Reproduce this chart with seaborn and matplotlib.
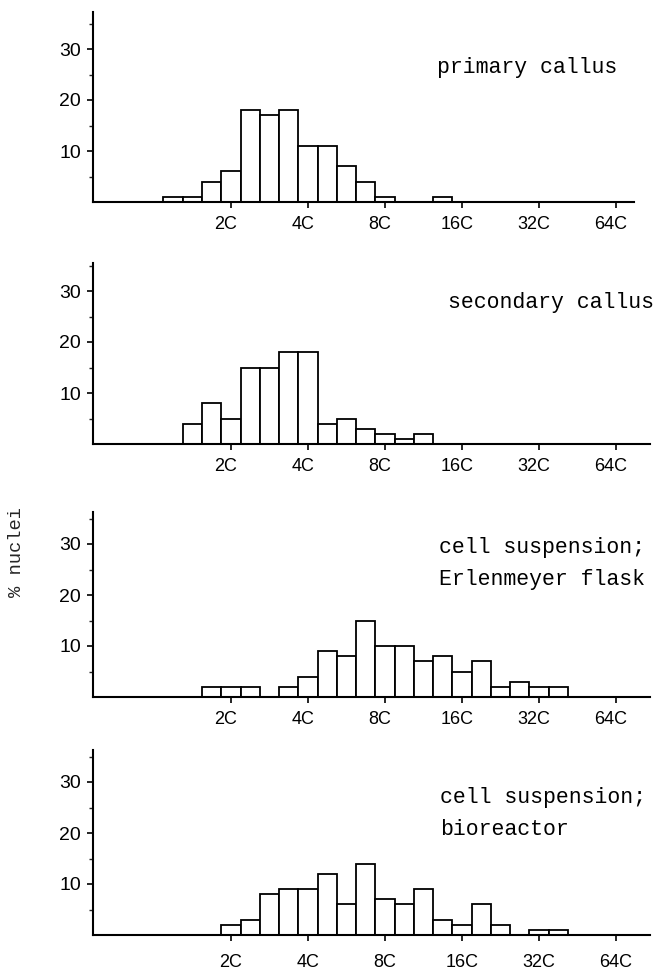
import pandas as pd
import seaborn as sns
import matplotlib.pyplot as plt
from matplotlib.transforms import ScaledTranslation

# bin centres as log2 of DNA content (1 = 2C, 2 = 4C, ...) and % nuclei per bin
primary_pos = [0.25, 0.5, 0.75, 1.0, 1.25, 1.5, 1.75, 2.0, 2.25, 2.5, 2.75, 3.0, 3.75]
primary_pct = [1, 1, 4, 6, 18, 17, 18, 11, 11, 7, 4, 1, 1]

secondary_pos = [0.5, 0.75, 1.0, 1.25, 1.5, 1.75, 2.0, 2.25, 2.5, 2.75, 3.0, 3.25, 3.5]
secondary_pct = [4, 8, 5, 15, 15, 18, 18, 4, 5, 3, 2, 1, 2]

flask_pos = [0.75, 1.0, 1.25, 1.75, 2.0, 2.25, 2.5, 2.75, 3.0, 3.25, 3.5,
             3.75, 4.0, 4.25, 4.5, 4.75, 5.0, 5.25]
flask_pct = [2, 2, 2, 2, 4, 9, 8, 15, 10, 10, 7, 8, 5, 7, 2, 3, 2, 2]

reactor_pos = [1.0, 1.25, 1.5, 1.75, 2.0, 2.25, 2.5, 2.75, 3.0, 3.25, 3.5,
               3.75, 4.0, 4.25, 4.5, 5.0, 5.25]
reactor_pct = [2, 3, 8, 9, 9, 12, 6, 14, 7, 6, 9, 3, 2, 6, 2, 1, 1]

tick_pos = [1, 2, 3, 4, 5, 6]
tick_labels = ["2C", "4C", "8C", "16C", "32C", "64C"]

panel_titles = [
    ["primary callus"],
    ["secondary callus"],
    ["cell suspension;", "Erlenmeyer flask"],
    ["cell suspension;", "bioreactor"],
]

# layout (pixels of the 657x976 figure)
W, H = 657, 976
PX_PER_PCT = 5.1
X_LEFT, X_RIGHT = -0.79, 6.44
AX_L, AX_R = 93, 650
axis_top = [12, 263, 512, 750]
axis_base = [202, 444, 697, 935]
title_x = [3.675, 3.82, 3.7, 3.72]
title_y = [[26.3], [27.8], [29.4, 23.0], [27.0, 20.6]]

sns.set_style("ticks")
plt.rcParams["font.family"] = ["Liberation Sans", "DejaVu Sans"]

fig = plt.figure(figsize=(W / 100, H / 100), dpi=100)

data = [(primary_pos, primary_pct), (secondary_pos, secondary_pct),
        (flask_pos, flask_pct), (reactor_pos, reactor_pct)]

for i, (pos, pct) in enumerate(data):
    top, base = axis_top[i], axis_base[i]
    ax = fig.add_axes([AX_L / W, 1 - base / H, (AX_R - AX_L) / W, (base - top) / H])
    df = pd.DataFrame({"pos": pos, "pct": pct})
    sns.barplot(data=df, x="pos", y="pct", native_scale=True, orient="x", width=1,
                color="white", saturation=1, edgecolor="black", linewidth=1.3,
                errorbar=None, ax=ax)

    ax.set_xlim(X_LEFT, X_RIGHT)
    ax.set_ylim(0, (base - top) / PX_PER_PCT)
    ax.set_xticks(tick_pos, tick_labels)
    ax.set_yticks([10, 20, 30])
    ax.set_yticks([5, 15, 25, 35], minor=True)
    ax.set_xlabel("")
    ax.set_ylabel("")

    sns.despine(ax=ax)
    for side in ["left", "bottom"]:
        ax.spines[side].set_linewidth(1.5)
        ax.spines[side].set_color("black")
    if i == 0:
        ax.spines["bottom"].set_bounds(X_LEFT, 6.23)

    ax.tick_params(axis="x", direction="out", length=4.5, width=1.2,
                   pad=9 if i == 3 else 5.5, labelsize=13, colors="black")
    ax.tick_params(axis="y", which="major", direction="out", length=4.5, width=1.2,
                   pad=4, labelsize=14, colors="black")
    ax.tick_params(axis="y", which="minor", direction="out", length=3, width=1)

    if i < 3:
        shift = ScaledTranslation(-5 / 100, 0, fig.dpi_scale_trans)
        for lab in ax.get_xticklabels():
            lab.set_transform(lab.get_transform() + shift)

    for line, y in zip(panel_titles[i], title_y[i]):
        ax.text(title_x[i], y, line, family="Liberation Mono", fontsize=15.5,
                ha="left", va="center", color="black")

fig.text(17 / W, 1 - 552 / H, "% nuclei", rotation=90, family="Liberation Mono",
         fontsize=13.5, ha="center", va="center")

fig.savefig("out.png", dpi=100)
